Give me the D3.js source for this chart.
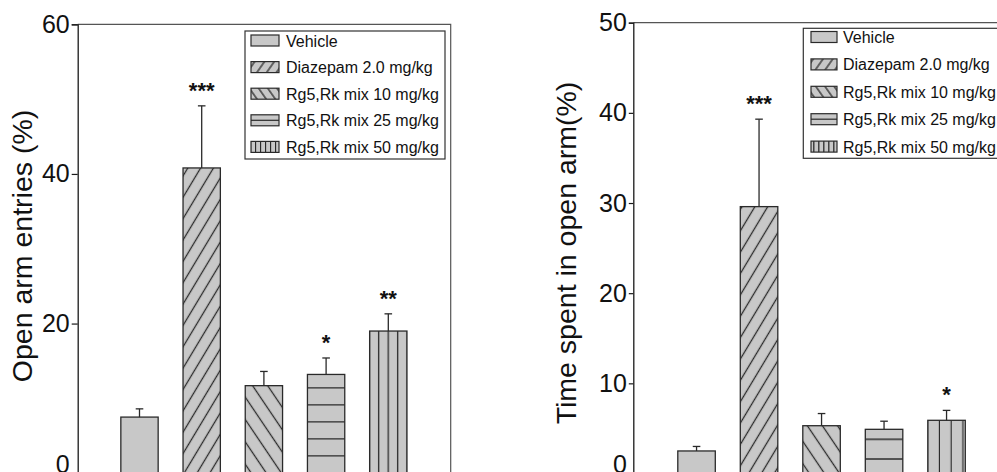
<!DOCTYPE html>
<html><head><meta charset="utf-8">
<script src="https://cdn.jsdelivr.net/npm/d3@7"></script>
<style>
html,body{margin:0;padding:0;background:#fff;}
svg{display:block;font-family:"Liberation Sans",Arial,sans-serif;}
</style></head>
<body>
<svg id="chart" width="997" height="472"></svg>
<script>
// ---------- data ----------
const categories = ["Vehicle", "Diazepam 2.0 mg/kg", "Rg5,Rk mix 10 mg/kg", "Rg5,Rk mix 25 mg/kg", "Rg5,Rk mix 50 mg/kg"];
const entriesMean = [7.5, 40.8, 11.7, 13.2, 19.0];
const entriesErr  = [1.1, 8.3, 1.9, 2.2, 2.3];
const entriesSig  = ["", "***", "", "*", "**"];
const entriesTicks = [0, 20, 40, 60];
const timeMean = [2.5, 29.6, 5.3, 4.9, 5.9];
const timeErr  = [0.5, 9.7, 1.35, 0.9, 1.1];
const timeSig  = ["", "***", "", "", "*"];
const timeTicks = [0, 10, 20, 30, 40, 50];
const hatchKinds = ["none", "fwd", "back", "horiz", "vert"];

const svg = d3.select("#chart");
const defs = svg.append("defs");
const FILL = "#c8c8c8", INK = "#2a2a2a";

function linePattern(id, spacing, angle, offset, vertical, ph) {
  const p = defs.append("pattern").attr("id", id)
    .attr("patternUnits", "userSpaceOnUse")
    .attr("width", vertical ? spacing : (ph || 10))
    .attr("height", vertical ? (ph || 10) : spacing);
  if (angle) p.attr("patternTransform", `rotate(${angle})`);
  p.append("rect").attr("width", vertical ? spacing : (ph || 10)).attr("height", vertical ? (ph || 10) : spacing).attr("fill", FILL);
  if (vertical) {
    p.append("line").attr("x1", offset).attr("x2", offset).attr("y1", -1).attr("y2", (ph || 10) + 1)
      .attr("stroke", INK).attr("stroke-width", 1.3);
  } else {
    p.append("line").attr("y1", offset).attr("y2", offset).attr("x1", -1).attr("x2", (ph || 10) + 1)
      .attr("stroke", INK).attr("stroke-width", 1.3);
  }
}

function drawPanel(cfg) {
  const { means, errs, sigs, ticks, yTop, yZero, xAxis, xRight, bandRange, title, titleX, legend, pid } = cfg;
  const y = d3.scaleLinear().domain([0, d3.max(ticks)]).range([yZero, yTop]);
  const x = d3.scaleBand().domain(categories).range(bandRange).paddingInner(0.4).paddingOuter(0.2);

  linePattern(pid + "fwd", cfg.fwdSp, 31, cfg.fwdSp / 2, true, 40);
  linePattern(pid + "back", cfg.backSp, -34, cfg.backSp / 2, true, 40);
  linePattern(pid + "horiz", cfg.hSp, 0, cfg.hOff, false, 40);
  linePattern(pid + "vert", cfg.vSp, 0, cfg.vOff, true, 40);
  linePattern(pid + "Lfwd", 8, 35, 4, true, 20);
  linePattern(pid + "Lback", 7.5, -35, 3.7, true, 20);
  linePattern(pid + "Lvert", 5, 0, legend.x0 % 5 + 0.5, true, 20);

  const fillFor = (k, leg) => k === "none" ? FILL :
    (leg && k !== "horiz" ? `url(#${pid}L${k})` : (leg ? FILL : `url(#${pid}${k})`));

  svg.append("path")
    .attr("d", `M${xAxis},${yTop}H${xRight}V${yZero + 10}`)
    .attr("fill", "none").attr("stroke", "#555").attr("stroke-width", 1.2);

  const g = svg.append("g");
  categories.forEach((c, i) => {
    g.append("rect")
      .attr("x", x(c)).attr("y", y(means[i]))
      .attr("width", x.bandwidth()).attr("height", y(0) - y(means[i]))
      .attr("fill", fillFor(hatchKinds[i], false))
      .attr("stroke", INK).attr("stroke-width", 1.3);
    const cx = x(c) + x.bandwidth() / 2;
    const capY = y(means[i] + errs[i]);
    g.append("line").attr("x1", cx).attr("x2", cx).attr("y1", y(means[i])).attr("y2", capY)
      .attr("stroke", INK).attr("stroke-width", 1.3);
    g.append("line").attr("x1", cx - 3.8).attr("x2", cx + 3.8).attr("y1", capY).attr("y2", capY)
      .attr("stroke", INK).attr("stroke-width", 1.3);
    if (sigs[i]) {
      g.append("text").attr("x", cx).attr("y", capY - 8)
        .attr("text-anchor", "middle").attr("font-size", 22).attr("font-weight", "bold")
        .attr("fill", "#111").text(sigs[i]);
    }
  });

  const ax = svg.append("g").attr("transform", `translate(${xAxis},0)`)
    .call(d3.axisLeft(y).tickValues(ticks).tickSize(cfg.tickLen).tickPadding(2).tickFormat(d3.format("d")));
  ax.select(".domain").attr("stroke", "#1a1a1a").attr("stroke-width", 1.3);
  ax.selectAll(".tick line").attr("stroke", "#1a1a1a").attr("stroke-width", 1.2);
  ax.selectAll(".tick text").attr("font-size", 25).attr("fill", "#111")
    .attr("font-family", "Liberation Sans, Arial, sans-serif");
  ax.selectAll(".tick text").filter(d => d === 0).attr("y", -9);

  svg.append("text")
    .attr("transform", `translate(${titleX},${cfg.titleY}) rotate(-90)`)
    .attr("text-anchor", "middle").attr("font-size", 28.5).attr("fill", "#111").text(title);

  const L = svg.append("g");
  L.append("rect").attr("x", legend.x0).attr("y", legend.y0)
    .attr("width", legend.w).attr("height", legend.h)
    .attr("fill", "#fff").attr("stroke", "#333").attr("stroke-width", 1.2);
  categories.forEach((c, i) => {
    const cy = legend.firstY + i * legend.step;
    L.append("rect").attr("x", legend.sx).attr("y", cy - 5.5).attr("width", legend.sw).attr("height", 11)
      .attr("fill", fillFor(hatchKinds[i], true)).attr("stroke", INK).attr("stroke-width", 1.2);
    if (hatchKinds[i] === "horiz") {
      L.append("line").attr("x1", legend.sx).attr("x2", legend.sx + legend.sw).attr("y1", cy).attr("y2", cy)
        .attr("stroke", INK).attr("stroke-width", 1.2);
    }
    L.append("text").attr("x", legend.tx).attr("y", cy + 6).attr("font-size", 16).attr("fill", "#111").text(c);
  });
}

drawPanel({
  pid: "a", means: entriesMean, errs: entriesErr, sigs: entriesSig, ticks: entriesTicks,
  yTop: 24.3, yZero: 473.2, xAxis: 77.7, xRight: 450.7, bandRange: [108.4, 419.4], tickLen: 6,
  title: "Open arm entries (%)", titleX: 32, titleY: 246,
  fwdSp: 11, backSp: 12.5, hSp: 17, hOff: 13.8, vSp: 9.5, vOff: 8.2,
  legend: { x0: 245, y0: 31, w: 200, h: 128, sx: 251, sw: 28, tx: 286, firstY: 40.5, step: 26.6 }
});
drawPanel({
  pid: "b", means: timeMean, errs: timeErr, sigs: timeSig, ticks: timeTicks,
  yTop: 22.7, yZero: 473.5, xAxis: 633.3, xRight: 1006, bandRange: [665.3, 977.8], tickLen: 4.5,
  title: "Time spent in open arm(%)", titleX: 576, titleY: 253,
  fwdSp: 11, backSp: 12.5, hSp: 19.7, hOff: 5.9, vSp: 11.75, vOff: 11.25,
  legend: { x0: 803.3, y0: 28.3, w: 200, h: 130, sx: 811, sw: 26, tx: 843, firstY: 37, step: 27.4 }
});
</script>
</body></html>
